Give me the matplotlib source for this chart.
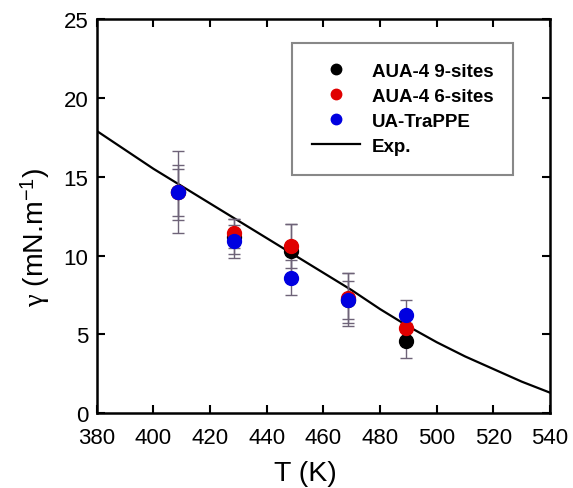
import matplotlib
matplotlib.use('Agg')
import matplotlib.pyplot as plt

plt.rcParams['font.family'] = ['Liberation Sans', 'DejaVu Sans']
plt.rcParams['mathtext.fontset'] = 'custom'
plt.rcParams['mathtext.rm'] = 'Liberation Sans'
plt.rcParams['mathtext.it'] = 'Liberation Serif'

# simulation temperatures (K)
T_sim = [408.5, 428.5, 448.5, 468.5, 489.0]

# surface tension (mN/m) and error bars for each model
aua9 = [14.0, 11.2, 10.3, 7.2, 4.6]
aua9_err = [1.5, 1.1, 1.7, 1.2, 1.1]
aua6 = [14.0, 11.4, 10.6, 7.3, 5.4]
aua6_err = [1.75, 0.9, 1.4, 1.6, 1.0]
trappe = [14.0, 10.9, 8.6, 7.2, 6.2]
trappe_err = [2.6, 1.05, 1.1, 1.7, 1.0]

T_exp = [380, 390, 400, 410, 420, 430, 440, 450, 460, 470, 480, 490, 500, 510, 520, 530, 540]
gamma_exp = [17.9, 16.7, 15.5, 14.4, 13.3, 12.2, 11.1, 10.0, 8.9, 7.8, 6.6, 5.5, 4.5, 3.6, 2.8, 2.0, 1.3]

fig = plt.figure(figsize=(5.73, 4.89), dpi=100)
ax = fig.add_axes([0.169, 0.153, 0.791, 0.806])

ax.plot(T_exp, gamma_exp, color='black', lw=1.6, label='Exp.', zorder=2)

err_color = '#6e6378'
for y, e, c, lab in [(aua9, aua9_err, 'black', 'AUA-4 9-sites'),
                     (aua6, aua6_err, '#e00000', 'AUA-4 6-sites'),
                     (trappe, trappe_err, '#0000e0', 'UA-TraPPE')]:
    ax.errorbar(T_sim, y, yerr=e, fmt='none', ecolor=err_color, elinewidth=1.0,
                capsize=4, capthick=1.0, zorder=3)
    ax.plot(T_sim, y, 'o', color=c, markersize=10, label=lab, zorder=4)

ax.set_xlim(380, 540)
ax.set_ylim(0, 25)
ax.set_xticks(range(380, 541, 20))
ax.set_yticks(range(0, 26, 5))
ax.tick_params(direction='in', top=True, right=True, length=6, width=1.5,
               labelsize=16, pad=6)
ax.tick_params(axis='x', pad=10)
for s in ax.spines.values():
    s.set_linewidth(1.8)

ax.set_xlabel('T (K)', fontsize=20.5)
ax.xaxis.set_label_coords(0.46, -0.12)
ax.set_ylabel(r'$\gamma$ (mN.m$^{\mathregular{-1}}$)', fontsize=20.5)
ax.yaxis.set_label_coords(-0.10, 0.45)

handles, labels = ax.get_legend_handles_labels()
order = [1, 2, 3, 0]
leg = ax.legend([handles[i] for i in order], [labels[i] for i in order],
                loc='upper left', bbox_to_anchor=(292 / 573, 1 - 44 / 489),
                bbox_transform=fig.transFigure, frameon=True, fancybox=False,
                edgecolor='#888888', framealpha=1, prop={'weight': 'bold', 'size': 13.5},
                handlelength=2.6, labelspacing=0.42, markerscale=0.75,
                borderpad=1.05, handletextpad=0.6, borderaxespad=0)
leg.get_frame().set_linewidth(1.5)

fig.savefig('out.png', dpi=100)
